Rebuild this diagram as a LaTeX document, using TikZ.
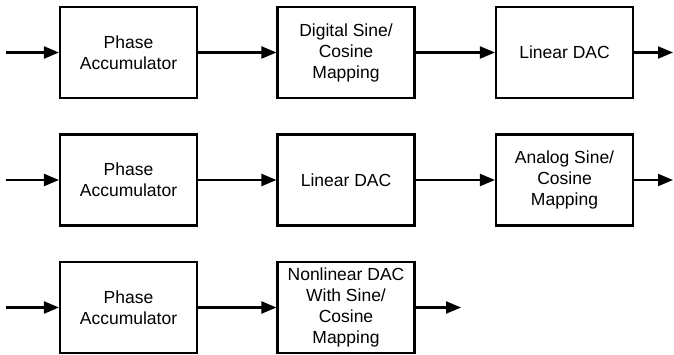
\documentclass[tikz,border=0pt]{standalone}
\usepackage{fontspec}
\setmainfont{Liberation Sans}
\usetikzlibrary{arrows.meta,positioning}
\tikzset{
    blk/.style={draw, line width=2.1pt, rectangle, align=center, inner sep=0pt,
        minimum width=137pt, minimum height=91pt, font=\fontsize{17.5}{21}\selectfont},
    sig/.style={line width=2.1pt, ->, >={Triangle[length=15pt,width=12pt]}}
}

\begin{document}
\begin{tikzpicture}[x=1pt, y=-1pt]
    \useasboundingbox (0,0) rectangle (674,355);

    % Digital mapping, then DAC
    \node[blk] (acc1) at (128.5,52.5) {Phase\\Accumulator};
    \node[blk] (map1) at (346,52.5) {Digital Sine/\\Cosine\\Mapping};
    \node[blk] (dac1) at (564.5,52.5) {Linear DAC};
    \coordinate (in1) at (6,52.5);
    \coordinate (out1) at (673,52.5);

    % DAC, then analog mapping
    \node[blk] (acc2) at (128.5,180) {Phase\\Accumulator};
    \node[blk] (dac2) at (346,180) {Linear DAC};
    \node[blk] (map2) at (564.5,180) {Analog Sine/\\Cosine\\Mapping};
    \coordinate (in2) at (6,180);
    \coordinate (out2) at (673,180);

    % Nonlinear DAC does the mapping
    \node[blk] (acc3) at (128.5,307.5) {Phase\\Accumulator};
    \node[blk] (ndac3) at (346,307.5) {Nonlinear DAC\\With Sine/\\Cosine\\Mapping};
    \coordinate (in3) at (6,307.5);
    \coordinate (out3) at (461,307.5);

    % Signal paths
    \draw[sig] (in1) -- (acc1);
    \draw[sig] (acc1) -- (map1);
    \draw[sig] (map1) -- (dac1);
    \draw[sig] (dac1) -- (out1);

    \draw[sig] (in2) -- (acc2);
    \draw[sig] (acc2) -- (dac2);
    \draw[sig] (dac2) -- (map2);
    \draw[sig] (map2) -- (out2);

    \draw[sig] (in3) -- (acc3);
    \draw[sig] (acc3) -- (ndac3);
    \draw[sig] (ndac3) -- (out3);
\end{tikzpicture}
\end{document}
